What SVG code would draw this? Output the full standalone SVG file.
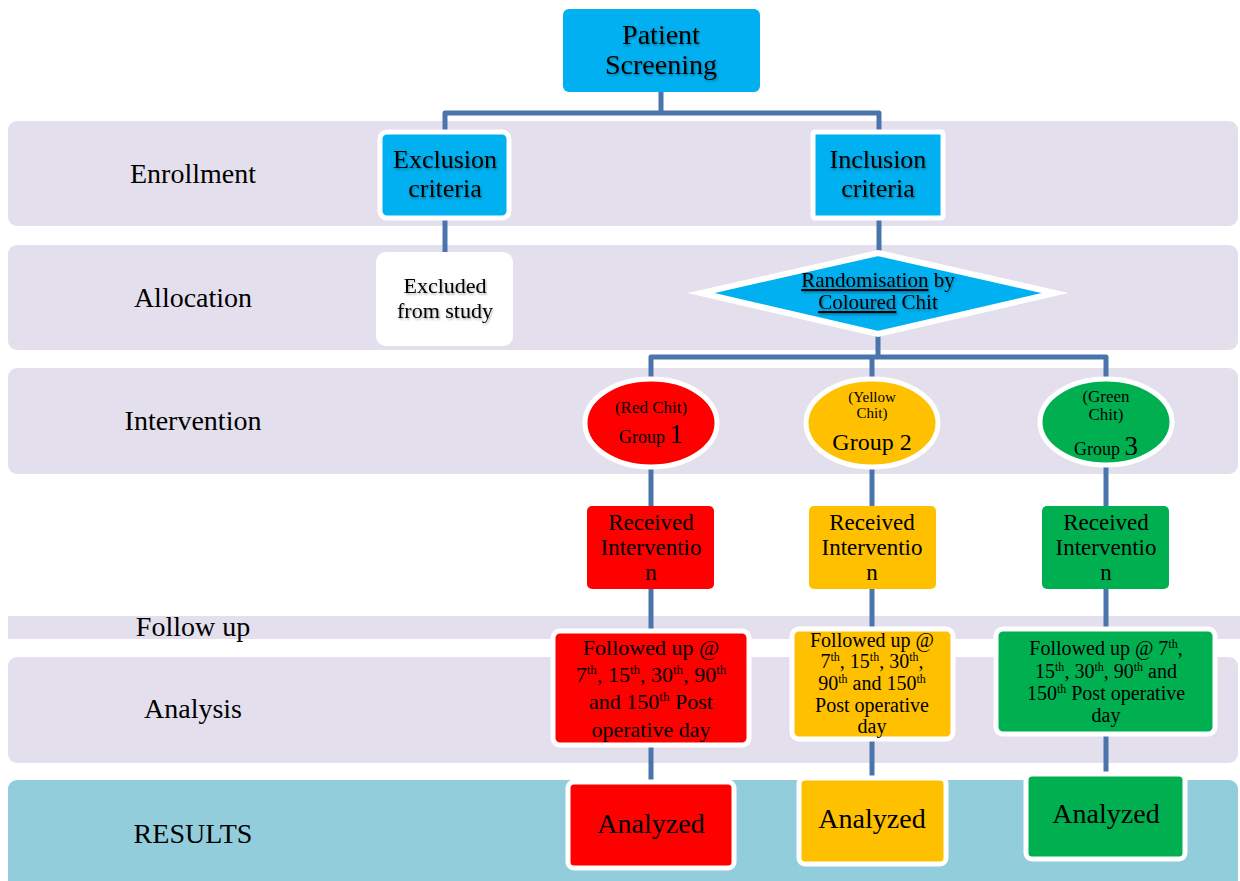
<svg xmlns="http://www.w3.org/2000/svg" width="1240" height="881" viewBox="0 0 1240 881">
<style>
text{font-family:"Liberation Serif","Times New Roman",serif;fill:#000;text-anchor:middle}
.band{fill:#e4dfec}
.res{fill:#92cddc}
.lbl{font-size:28px}
.blue{fill:#00b0f0;stroke:#fff;stroke-width:5}
.red{fill:#ff0000}
.yel{fill:#ffc000}
.grn{fill:#00b050}
.wb{stroke:#fff;stroke-width:5}
.con{fill:none;stroke:#4a74ab;stroke-width:5;stroke-linejoin:round}
.sh{filter:url(#ts)}
</style>
<defs>
<filter id="ts" x="-10%" y="-20%" width="120%" height="150%">
<feDropShadow dx="1" dy="1.5" stdDeviation="1" flood-color="#000" flood-opacity="0.35"/>
</filter>
</defs>
<g id="bands">
<rect class="band" x="8" y="121" width="1230" height="105" rx="9"/>
<rect class="band" x="8" y="245" width="1230" height="105" rx="9"/>
<rect class="band" x="8" y="368" width="1230" height="106" rx="9"/>
<rect class="band" x="8" y="616" width="1232" height="23"/>
<rect class="band" x="8" y="657" width="1230" height="106" rx="9"/>
<rect class="res" x="8" y="780" width="1230" height="110" rx="9"/>
<text class="lbl" x="193" y="183">Enrollment</text>
<text class="lbl" x="193" y="307">Allocation</text>
<text class="lbl" x="193" y="430">Intervention</text>
<text class="lbl" x="193" y="636">Follow up</text>
<text class="lbl" x="193" y="718">Analysis</text>
<text class="lbl" x="193" y="843">RESULTS</text>
</g>
<g id="connectors">
<path class="con" d="M445,133 V113 H879 V133 M661,92 V113"/>
<path class="con" d="M445,217 V252"/>
<path class="con" d="M879,217 V253"/>
<path class="con" d="M878,333 V357 M651,380 V357 H1106 V380 M872,357 V380"/>
<path class="con" d="M651,466 V506 M872,466 V506 M1106,466 V506"/>
<path class="con" d="M651,589 V632 M872,589 V630 M1106,589 V630"/>
<path class="con" d="M651,744 V783 M872,738 V779 M1106,733 V775"/>
</g>
<g id="patient-screening">
<rect x="563" y="9" width="197" height="83" rx="6" fill="#00b0f0"/>
<text class="sh" x="661" y="44" font-size="28">Patient</text>
<text class="sh" x="661" y="74" font-size="28">Screening</text>
</g>
<g id="exclusion-criteria">
<rect class="blue" x="380" y="132" width="129" height="86" rx="7"/>
<text class="sh" x="445" y="168" font-size="26">Exclusion</text>
<text class="sh" x="445" y="197" font-size="26">criteria</text>
</g>
<g id="inclusion-criteria">
<rect class="blue" x="813" y="132" width="130" height="86" rx="2"/>
<text class="sh" x="878" y="168" font-size="26">Inclusion</text>
<text class="sh" x="878" y="197" font-size="26">criteria</text>
</g>
<g id="excluded">
<rect x="376" y="252" width="137" height="94" rx="10" fill="#fff"/>
<text class="sh" x="445" y="293" font-size="22">Excluded</text>
<text class="sh" x="445" y="318" font-size="22">from study</text>
</g>
<g id="randomisation">
<polygon points="878,253 1055,293 878,334 701,293" fill="#00b0f0" stroke="#fff" stroke-width="6" stroke-miterlimit="10"/>
<text class="sh" x="878" y="287" font-size="21"><tspan text-decoration="underline">Randomisation</tspan> by</text>
<text class="sh" x="878" y="309" font-size="21"><tspan text-decoration="underline">Coloured</tspan> Chit</text>
</g>
<g id="group1">
<ellipse class="red wb" cx="651" cy="423" rx="66" ry="44"/>
<text x="651" y="413" font-size="17">(Red Chit)</text>
<text x="651" y="443" font-size="18">Group <tspan font-size="27">1</tspan></text>
</g>
<g id="group2">
<ellipse class="yel wb" cx="872" cy="423" rx="66" ry="44"/>
<text x="872" y="402" font-size="15">(Yellow</text>
<text x="872" y="418" font-size="15">Chit)</text>
<text x="872" y="450" font-size="24">Group 2</text>
</g>
<g id="group3">
<ellipse class="grn wb" cx="1106" cy="422" rx="66" ry="43"/>
<text x="1106" y="402" font-size="17">(Green</text>
<text x="1106" y="420" font-size="17">Chit)</text>
<text x="1106" y="455" font-size="18">Group <tspan font-size="27">3</tspan></text>
</g>
<g id="received1">
<rect class="red" x="587" y="506" width="127" height="83" rx="5"/>
<text x="651" y="530" font-size="23">Received</text>
<text x="651" y="555" font-size="23">Interventio</text>
<text x="651" y="580" font-size="23">n</text>
</g>
<g id="received2">
<rect class="yel" x="809" y="506" width="127" height="83" rx="5"/>
<text x="872" y="530" font-size="23">Received</text>
<text x="872" y="555" font-size="23">Interventio</text>
<text x="872" y="580" font-size="23">n</text>
</g>
<g id="received3">
<rect class="grn" x="1042" y="506" width="127" height="83" rx="5"/>
<text x="1106" y="530" font-size="23">Received</text>
<text x="1106" y="555" font-size="23">Interventio</text>
<text x="1106" y="580" font-size="23">n</text>
</g>
<g id="followup1">
<rect class="red wb" x="553" y="631" width="196" height="114" rx="7"/>
<text font-size="22"><tspan x="651" y="655">Followed up @</tspan><tspan x="651" y="682">7<tspan font-size="13" dy="-8">th</tspan><tspan dy="8">, 15</tspan><tspan font-size="13" dy="-8">th</tspan><tspan dy="8">, 30</tspan><tspan font-size="13" dy="-8">th</tspan><tspan dy="8">, 90</tspan><tspan font-size="13" dy="-8">th</tspan></tspan><tspan x="651" y="709">and 150<tspan font-size="13" dy="-8">th</tspan><tspan dy="8"> Post</tspan></tspan><tspan x="651" y="737">operative day</tspan></text>
</g>
<g id="followup2">
<rect class="yel wb" x="792" y="629" width="161" height="110" rx="7"/>
<text font-size="20"><tspan x="872" y="647">Followed up @</tspan><tspan x="872" y="668">7<tspan font-size="12" dy="-7">th</tspan><tspan dy="7">, 15</tspan><tspan font-size="12" dy="-7">th</tspan><tspan dy="7">, 30</tspan><tspan font-size="12" dy="-7">th</tspan><tspan dy="7">,</tspan></tspan><tspan x="872" y="690">90<tspan font-size="12" dy="-7">th</tspan><tspan dy="7"> and 150</tspan><tspan font-size="12" dy="-7">th</tspan></tspan><tspan x="872" y="712">Post operative</tspan><tspan x="872" y="733">day</tspan></text>
</g>
<g id="followup3">
<rect class="grn wb" x="996" y="629" width="219" height="105" rx="7"/>
<text font-size="20"><tspan x="1106" y="655">Followed up @ 7<tspan font-size="12" dy="-7">th</tspan><tspan dy="7">,</tspan></tspan><tspan x="1106" y="678">15<tspan font-size="12" dy="-7">th</tspan><tspan dy="7">, 30</tspan><tspan font-size="12" dy="-7">th</tspan><tspan dy="7">, 90</tspan><tspan font-size="12" dy="-7">th</tspan><tspan dy="7"> and</tspan></tspan><tspan x="1106" y="700">150<tspan font-size="12" dy="-7">th</tspan><tspan dy="7"> Post operative</tspan></tspan><tspan x="1106" y="722">day</tspan></text>
</g>
<g id="analyzed1">
<rect class="red wb" x="568" y="782" width="166" height="86" rx="6"/>
<text x="651" y="833" font-size="28">Analyzed</text>
</g>
<g id="analyzed2">
<rect class="yel wb" x="799" y="778" width="147" height="86" rx="6"/>
<text x="872" y="828" font-size="28">Analyzed</text>
</g>
<g id="analyzed3">
<rect class="grn wb" x="1026" y="774" width="159" height="85" rx="6"/>
<text x="1106" y="823" font-size="28">Analyzed</text>
</g>
</svg>
